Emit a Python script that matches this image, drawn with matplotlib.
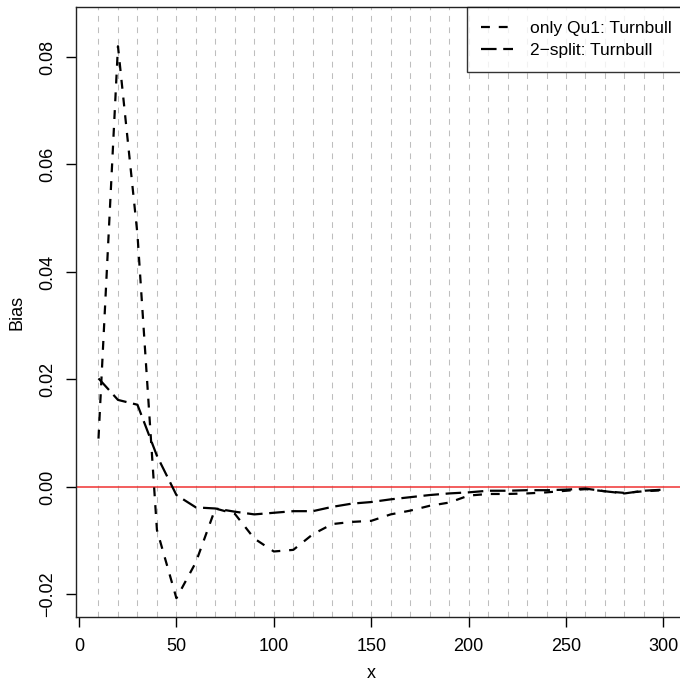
import matplotlib
matplotlib.use("Agg")
import matplotlib.pyplot as plt

plt.rcParams['font.family'] = ['Liberation Sans', 'DejaVu Sans']
plt.rcParams['font.size'] = 12.5

# sample sizes / evaluation points
x_vals = [10, 20, 30, 40, 50, 60, 70, 80, 90, 100,
          110, 120, 130, 140, 150, 160, 170, 180, 190, 200,
          210, 220, 230, 240, 250, 260, 270, 280, 290, 300]

# bias of the Turnbull estimator, first-quantile only
bias_qu1 = [0.0090, 0.0820, 0.0470, -0.0080, -0.0207, -0.0140, -0.0040, -0.0050, -0.0096, -0.0120,
            -0.0117, -0.0088, -0.0069, -0.0065, -0.0063, -0.0051, -0.0044, -0.0035, -0.0029, -0.0016,
            -0.0013, -0.0013, -0.0012, -0.0010, -0.0007, -0.0004, -0.0008, -0.0011, -0.0008, -0.0006]

# bias of the Turnbull estimator, 2-split design
bias_split2 = [0.0202, 0.0162, 0.0153, 0.0058, -0.0015, -0.0038, -0.0040, -0.0046, -0.0051, -0.0048,
               -0.0045, -0.0045, -0.0037, -0.0031, -0.0028, -0.0023, -0.0019, -0.0015, -0.0012, -0.0010,
               -0.0007, -0.0007, -0.0006, -0.0006, -0.0005, -0.0003, -0.0008, -0.0012, -0.0007, -0.0005]

series_labels = ["only Qu1: Turnbull", "2\u2212split: Turnbull"]
grid_x = list(range(10, 301, 10))
x_ticks = [0, 50, 100, 150, 200, 250, 300]
y_ticks = [-0.02, 0.00, 0.02, 0.04, 0.06, 0.08]

W, H = 680, 684
fig = plt.figure(figsize=(W / 100, H / 100), dpi=100)
left_px, right_px, top_px, bot_px = 75.9, 686.0, 7.0, 617.0
ax = fig.add_axes([left_px / W, 1 - bot_px / H,
                   (right_px - left_px) / W, (bot_px - top_px) / H])

ax.set_xlim(-1.6, 311.6)
ax.set_ylim(-0.02419, 0.0893)

for gx in grid_x:
    ax.axvline(gx, color='#BEBEBE', lw=0.75, dashes=(5.5, 5.5), zorder=1)

ax.axhline(0, color='#F03232', lw=1.1, zorder=2)

ax.plot(x_vals, bias_qu1, color='black', lw=1.6, dashes=(4, 4),
        label=series_labels[0], zorder=3)
ax.plot(x_vals, bias_split2, color='black', lw=1.6, dashes=(7, 3),
        label=series_labels[1], zorder=3)

ax.set_xticks(x_ticks)
ax.set_xticklabels([str(t) for t in x_ticks])
ax.set_yticks(y_ticks)
ax.set_yticklabels([f"{t:.2f}".replace('-', '\u2212') for t in y_ticks])

ax.tick_params(axis='both', length=7.5, width=1.0, direction='out', colors='black',
               labelsize=13)
ax.tick_params(axis='x', pad=7.5)
ax.tick_params(axis='y', pad=6.5, labelrotation=90)
for lbl in ax.get_yticklabels():
    lbl.set_va('center')

for sp in ax.spines.values():
    sp.set_linewidth(1.0)
    sp.set_color('#222222')

ax.set_xlabel("x", fontsize=13)
ax.set_ylabel("Bias", fontsize=13)
ax.xaxis.set_label_coords((79 + 150 * 1.948 - left_px) / (right_px - left_px),
                          (bot_px - 673) / (bot_px - top_px))
ax.xaxis.label.set_va('center')
ax.yaxis.set_label_coords((17 - left_px) / (right_px - left_px), 0.5)
ax.yaxis.label.set_va('center')

leg = ax.legend(loc='upper right', bbox_to_anchor=(1, 1), borderaxespad=0,
                frameon=True, fancybox=False, handlelength=1.85,
                handletextpad=1.0, borderpad=0.8, labelspacing=0.4,
                fontsize=12.5)
leg.get_frame().set_edgecolor('black')
leg.get_frame().set_linewidth(1.0)

fig.savefig("out.png", dpi=100)
